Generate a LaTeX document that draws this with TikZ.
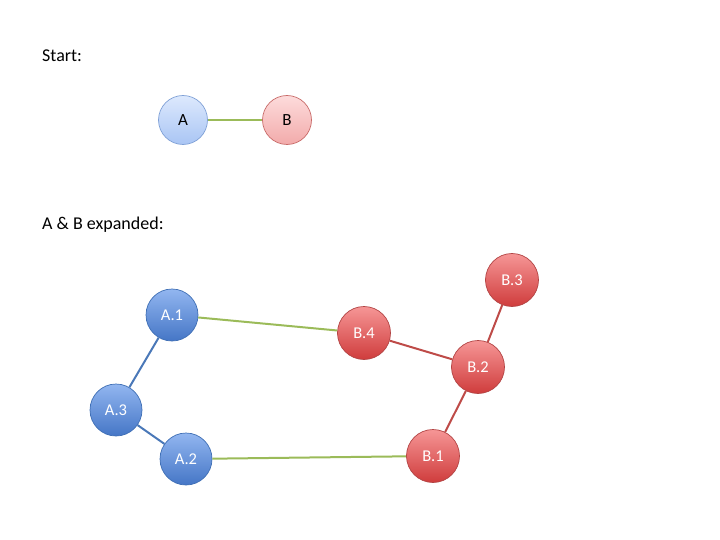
\documentclass[tikz,border=0pt]{standalone}
\usepackage{fontspec}
\setmainfont{Carlito}
\begin{document}
\begin{tikzpicture}[x=1pt,y=-1pt,
  caption/.style={anchor=west,font=\fontsize{18}{21}\selectfont,inner sep=0pt},
  lightA/.style={circle,minimum size=49pt,inner sep=0pt,draw=lightAedge,line width=0.7pt,
    top color=lightAtop,bottom color=lightAbot,font=\fontsize{17}{20}\selectfont},
  lightB/.style={circle,minimum size=49pt,inner sep=0pt,draw=lightBedge,line width=0.7pt,
    top color=lightBtop,bottom color=lightBbot,font=\fontsize{17}{20}\selectfont},
  anode/.style={circle,minimum size=52pt,inner sep=0pt,draw=blueedge,line width=0.7pt,
    top color=blueTop,bottom color=blueBot,text=white,font=\fontsize{16.5}{19}\selectfont},
  bnode/.style={circle,minimum size=53pt,inner sep=0pt,draw=rededge,line width=0.7pt,
    top color=redTop,bottom color=redBot,text=white,font=\fontsize{16.5}{19}\selectfont},
  gedge/.style={draw=greenedge,line width=2pt},
  bedge/.style={draw=blueline,line width=2pt},
  redge/.style={draw=redline,line width=2pt}]
\definecolor{lightAtop}{HTML}{DDE9FD}
\definecolor{lightAbot}{HTML}{A9C5F4}
\definecolor{lightAedge}{HTML}{7FA0D6}
\definecolor{lightBtop}{HTML}{FDDCDC}
\definecolor{lightBbot}{HTML}{F2AAAA}
\definecolor{lightBedge}{HTML}{C86A68}
\definecolor{blueTop}{HTML}{92B6F0}
\definecolor{blueBot}{HTML}{4576C6}
\definecolor{blueedge}{HTML}{3F6FB5}
\definecolor{redTop}{HTML}{F69696}
\definecolor{redBot}{HTML}{CF3C3C}
\definecolor{rededge}{HTML}{B24444}
\definecolor{greenedge}{HTML}{9BBB59}
\definecolor{blueline}{HTML}{4A78B8}
\definecolor{redline}{HTML}{BE4B48}
\useasboundingbox (0,0) rectangle (720,540);

\node[caption] (start) at (42,56) {Start:};
\node[caption] (expanded) at (42,225) {A \& B expanded:};

% initial pair
\node[lightA] (A) at (183,120) {A};
\node[lightB] (B) at (287,120) {B};
\draw[gedge] (A) -- (B);

% expanded graph
\node[anode] (A1) at (172,315) {A.1};
\node[anode] (A3) at (116,410) {A.3};
\node[anode] (A2) at (186,459) {A.2};
\node[bnode] (B4) at (364,333) {B.4};
\node[bnode] (B2) at (478,367) {B.2};
\node[bnode] (B3) at (512,280) {B.3};
\node[bnode] (B1) at (433,456) {B.1};

\draw[bedge] (A1) -- (A3);
\draw[bedge] (A3) -- (A2);
\draw[gedge] (A1) -- (B4);
\draw[gedge] (A2) -- (B1);
\draw[redge] (B4) -- (B2);
\draw[redge] (B3) -- (B2);
\draw[redge] (B2) -- (B1);
\end{tikzpicture}
\end{document}
